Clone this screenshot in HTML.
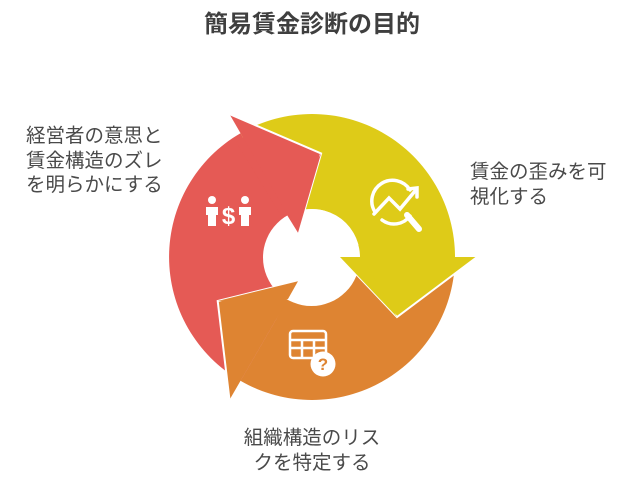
<!DOCTYPE html>
<html><head><meta charset="utf-8"><style>
html,body{margin:0;padding:0;background:#fff;}
body{width:624px;height:486px;position:relative;overflow:hidden;font-family:"Liberation Sans","Noto Sans CJK JP",sans-serif;}
.t{position:absolute;color:#4a4a4a;font-size:19.5px;line-height:24.5px;white-space:nowrap;}
</style></head><body>
<div class="t" style="left:0;width:624px;top:10px;text-align:center;font-size:24px;font-weight:bold;color:#3f3f3f;line-height:30px;">簡易賃金診断の目的</div>
<div class="t" style="left:26px;top:124px;">経営者の意思と<br>賃金構造のズレ<br>を明らかにする</div>
<div class="t" style="left:470px;top:160px;">賃金の歪みを可<br>視化する</div>
<div class="t" style="left:150px;width:324px;top:426px;text-align:center;">組織構造のリス<br>クを特定する</div>
<svg width="624" height="486" style="position:absolute;left:0;top:0">
<path d="M240.5 133.2 A143 143 0 0 1 455 257 L360 257 A48 48 0 0 0 288 215.4 Z" fill="#DECB18"/>
<path d="M455 257 A143 143 0 0 1 240.5 380.8 L288 298.6 A48 48 0 0 0 360 257 Z" fill="#DE8432"/>
<path d="M240.5 380.8 A143 143 0 0 1 240.5 133.2 L288 215.4 A48 48 0 0 0 288 298.6 Z" fill="#E55A55"/>
<path d="M236 142 L256 130 L300 210 L285 222 Z" fill="#E55A55"/>
<path d="M453 245 L453 270 L360 270 L358 245 Z" fill="#DECB18"/>
<path d="M238 377 L228 370 L275 290 L292 295 Z" fill="#DE8432"/>
<polygon points="477,257 397,317 340,257" fill="#DECB18"/>
<polyline points="477,257 397,317 340,257" fill="none" stroke="#fff" stroke-width="2"/>
<polygon points="229.5,399.9 217.7,301 298,281.2" fill="#DE8432"/>
<polyline points="229.5,399.9 217.7,301 298,281.2" fill="none" stroke="#fff" stroke-width="2"/>
<polygon points="229.5,114.1 321.1,153.4 298,232.8" fill="#E55A55"/>
<polyline points="229.5,114.1 321.1,153.4 298,232.8" fill="none" stroke="#fff" stroke-width="2"/>
<circle cx="311.5" cy="257.5" r="48.5" fill="#fff"/>
<polygon points="340,257 397,317 362,257" fill="#DECB18"/>
<polygon points="298,281.2 217.7,301 288,299" fill="#DE8432"/>
<polygon points="298,232.8 321.1,153.4 287,215" fill="#E55A55"/>
<g fill="#fff">
<circle cx="212" cy="200" r="4"/><path d="M206 207h12v8h-2v11h-8v-11h-2z"/>
<circle cx="245" cy="200" r="4"/><path d="M239 207h12v8h-2v11h-8v-11h-2z"/>
<text x="228.5" y="224" font-size="24" font-weight="bold" text-anchor="middle" font-family="Liberation Sans">$</text>
</g>
<g fill="none" stroke="#fff" stroke-width="3.5" stroke-linecap="round">
<path d="M375 212 A20 20 0 0 1 410 190"/>
<path d="M382 220 A20 20 0 0 0 410 216"/>
<path d="M374 214 L389 198 L400 209 L415 191"/>
<path d="M408 189 L417 188 L417 197"/>
<path d="M407 215 L419 229" stroke-width="6"/>
</g>
<g fill="none" stroke="#fff" stroke-width="2.5">
<rect x="290" y="331" width="36" height="27" rx="3"/>
<path d="M290 340h36M290 348h36M302 340v18M314 340v18"/>
</g>
<circle cx="323" cy="364" r="12.5" fill="#fff"/>
<text x="323" y="370" font-size="17" font-weight="bold" fill="#DE8432" text-anchor="middle" font-family="Liberation Sans">?</text>
</svg>
</body></html>
